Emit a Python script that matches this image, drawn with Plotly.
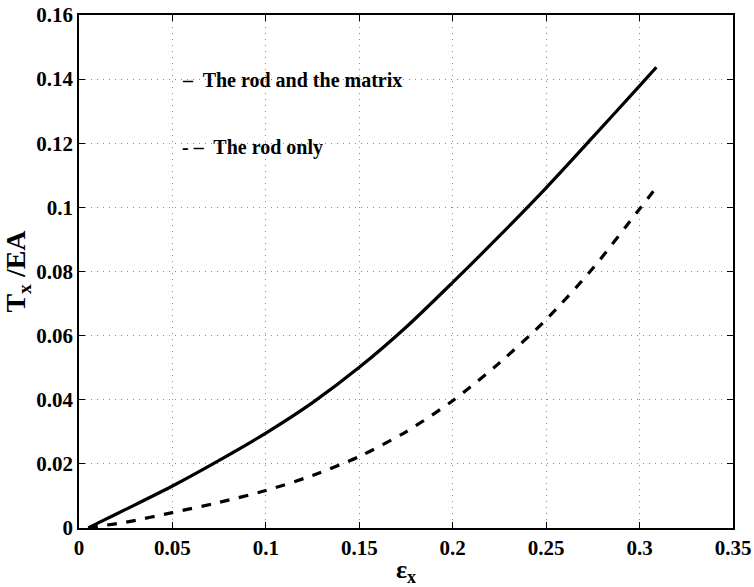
import plotly.graph_objects as go

# Data
strain = [0.005, 0.01, 0.025, 0.05, 0.075, 0.1, 0.125, 0.15, 0.175, 0.2, 0.225, 0.25, 0.275, 0.3, 0.309]
rod_and_matrix = [0.0, 0.0015, 0.0058, 0.0131, 0.0211, 0.0296, 0.0391, 0.0501, 0.0626, 0.0766, 0.0911, 0.1061, 0.1219, 0.1379, 0.1437]
rod_only = [0.0, 0.0005, 0.0018, 0.0048, 0.0080, 0.0117, 0.0164, 0.0223, 0.0300, 0.0397, 0.0515, 0.0650, 0.0810, 0.0995, 0.1062]

x_ticks = [0, 0.05, 0.1, 0.15, 0.2, 0.25, 0.3, 0.35]
x_tick_labels = ["0", "0.05", "0.1", "0.15", "0.2", "0.25", "0.3", "0.35"]
y_ticks = [0, 0.02, 0.04, 0.06, 0.08, 0.1, 0.12, 0.14, 0.16]
y_tick_labels = ["0", "0.02", "0.04", "0.06", "0.08", "0.1", "0.12", "0.14", "0.16"]

legend_labels = ["The rod and the matrix", "The rod only"]
legend_marks = ["–", "- –"]
legend_y = [0.1398, 0.1186]
legend_x = 0.054

FONT = "Liberation Serif, Times New Roman, serif"

fig = go.Figure()
fig.add_trace(go.Scatter(x=strain, y=rod_and_matrix, mode="lines",
                         line=dict(color="black", width=3.2, shape="spline", smoothing=0.8),
                         showlegend=False))
fig.add_trace(go.Scatter(x=strain, y=rod_only, mode="lines",
                         line=dict(color="black", width=3.2, dash="dash", shape="spline", smoothing=0.8),
                         showlegend=False))

for mark, lab, yy in zip(legend_marks, legend_labels, legend_y):
    fig.add_annotation(x=legend_x, y=yy, xref="x", yref="y", xanchor="left", yanchor="middle",
                       text="<b>" + mark + "  " + lab + "</b>", showarrow=False,
                       font=dict(family=FONT, size=20, color="black"))

axis_common = dict(showline=True, linecolor="black", linewidth=1.6, mirror="ticks",
                   ticks="inside", ticklen=6, tickcolor="black", tickwidth=1.2,
                   showgrid=True, gridcolor="#8c8c8c", griddash="1px,5px", gridwidth=1,
                   zeroline=False, automargin=False,
                   tickfont=dict(family=FONT, size=21, color="black", weight="bold"))

fig.update_xaxes(range=[0, 0.35], tickvals=x_ticks, ticktext=x_tick_labels,
                 title=dict(text="<b>ε<sub>x</sub></b>", font=dict(family=FONT, size=26, color="black"),
                            standoff=2),
                 **axis_common)
fig.update_yaxes(range=[0, 0.16], tickvals=y_ticks, ticktext=y_tick_labels,
                 title=dict(text="<b>T<sub>x</sub> /EA</b>", font=dict(family=FONT, size=28, color="black"),
                            standoff=4),
                 **axis_common)

fig.update_layout(width=754, height=587, margin=dict(l=79, r=21, t=15, b=59),
                  paper_bgcolor="white", plot_bgcolor="white",
                  font=dict(family=FONT, color="black"))

fig.write_html("out.html")
